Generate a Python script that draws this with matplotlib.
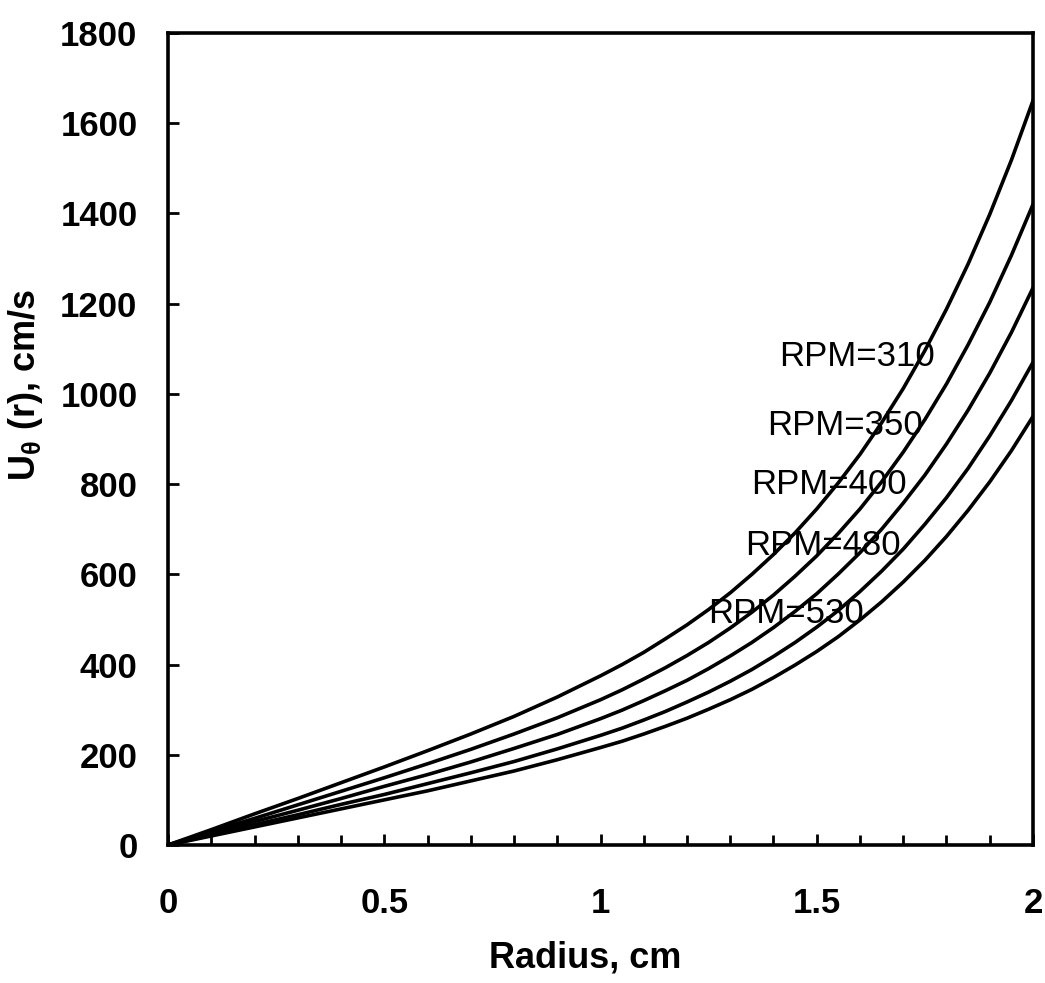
"""Tangential velocity profiles U_theta(r) for several rotation speeds."""

import matplotlib

matplotlib.use("Agg")
import matplotlib.pyplot as plt
from matplotlib.ticker import MultipleLocator

plt.rcParams["font.family"] = ["Liberation Sans", "DejaVu Sans"]
plt.rcParams["mathtext.fontset"] = "custom"
plt.rcParams["mathtext.rm"] = "Liberation Sans:bold"
plt.rcParams["mathtext.it"] = "Liberation Sans:bold"
plt.rcParams["mathtext.bf"] = "Liberation Sans:bold"

# values
radius = [0.0, 0.1, 0.2, 0.3, 0.4, 0.5, 0.6, 0.7, 0.8, 0.9, 1.0,
          1.05, 1.1, 1.15, 1.2, 1.25, 1.3, 1.35, 1.4, 1.45, 1.5,
          1.55, 1.6, 1.65, 1.7, 1.75, 1.8, 1.85, 1.9, 1.95, 2.0]
u_310 = [0, 34, 69, 103, 138, 173, 209, 246, 285, 328, 375,
         400, 427, 457, 488, 522, 559, 600, 644, 692, 745,
         803, 866, 936, 1012, 1096, 1188, 1288, 1398, 1518, 1650]
u_350 = [0, 30, 59, 89, 119, 149, 180, 212, 246, 282, 322,
         344, 368, 393, 420, 449, 481, 516, 554, 596, 641,
         691, 745, 805, 871, 943, 1022, 1109, 1203, 1307, 1420]
u_400 = [0, 26, 52, 77, 103, 130, 156, 184, 214, 245, 280,
         299, 320, 342, 365, 391, 419, 449, 482, 518, 557,
         601, 648, 700, 758, 820, 889, 964, 1046, 1136, 1235]
u_480 = [0, 22, 45, 67, 90, 112, 136, 160, 185, 213, 243,
         259, 277, 296, 317, 339, 363, 389, 418, 449, 483,
         520, 562, 607, 656, 711, 770, 835, 907, 985, 1070]
u_530 = [0, 20, 40, 60, 80, 100, 120, 142, 164, 189, 216,
         230, 246, 263, 281, 301, 322, 345, 371, 399, 429,
         462, 499, 539, 583, 631, 684, 742, 805, 874, 950]

curve_labels = ["RPM=310", "RPM=350", "RPM=400", "RPM=480", "RPM=530"]
label_x = [1.593, 1.565, 1.528, 1.514, 1.429]
label_y = [1082, 931, 800, 663, 514]

fig = plt.figure(figsize=(10.45, 9.83), dpi=100)
ax = fig.add_axes([0.1608, 0.1404, 0.8277, 0.8260])

for series in (u_310, u_350, u_400, u_480, u_530):
    ax.plot(radius, series, color="black", linewidth=2.6)

for text, x, y in zip(curve_labels, label_x, label_y):
    ax.text(x, y, text, ha="center", va="center", fontsize=25, color="black")

ax.set_xlim(0, 2)
ax.set_ylim(0, 1800)
ax.xaxis.set_minor_locator(MultipleLocator(0.1))
ax.yaxis.set_major_locator(MultipleLocator(200))
ax.set_xticks([0, 0.5, 1, 1.5, 2])
ax.set_xticklabels(["0", "0.5", "1", "1.5", "2"])

ax.tick_params(axis="both", which="major", direction="in", length=8, width=2,
               labelsize=25)
ax.tick_params(axis="x", which="both", pad=30)
ax.tick_params(axis="x", which="minor", direction="in", length=7, width=2)
ax.tick_params(axis="y", which="major", pad=22)
for lbl in ax.get_xticklabels() + ax.get_yticklabels():
    lbl.set_fontweight("bold")

for spine in ax.spines.values():
    spine.set_linewidth(2.6)

ax.set_xlabel("Radius, cm", fontsize=26, fontweight="bold")
ax.xaxis.set_label_coords(0.482, -0.118)
ax.set_ylabel(r"U$_{\theta}$ (r), cm/s", fontsize=26, fontweight="bold")
ax.yaxis.set_label_coords(-0.142, 0.567)

fig.savefig("out.png", dpi=100)
plt.close(fig)
